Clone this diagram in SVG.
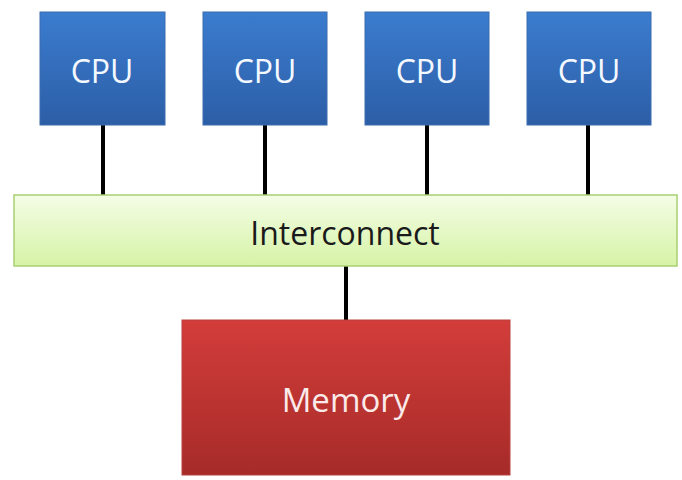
<svg xmlns="http://www.w3.org/2000/svg" width="682" height="480" viewBox="0 0 682 480">
  <defs>
    <linearGradient id="cpuFill" x1="0" y1="0" x2="0" y2="1">
      <stop offset="0" stop-color="#3b7ccf"/>
      <stop offset="1" stop-color="#2c5ea6"/>
    </linearGradient>
    <linearGradient id="busFill" x1="0" y1="0" x2="0" y2="1">
      <stop offset="0" stop-color="#f4fde6"/>
      <stop offset="1" stop-color="#d6f3a6"/>
    </linearGradient>
    <linearGradient id="memFill" x1="0" y1="0" x2="0" y2="1">
      <stop offset="0" stop-color="#d33d3a"/>
      <stop offset="1" stop-color="#a62b29"/>
    </linearGradient>
  </defs>
  <style>
    .cpu rect { fill: url(#cpuFill); stroke: #3a6db0; stroke-width: 1; }
    .bus rect { fill: url(#busFill); stroke: #a8cf72; stroke-width: 1.5; }
    .mem rect { fill: url(#memFill); stroke: #b8403d; stroke-width: 1; }
    text { font-family: "Open Sans", "Liberation Sans", sans-serif; text-anchor: middle; }
    .cpu text { fill: #f4f8ff; font-size: 32px; }
    .bus text { fill: #1a1a1a; font-size: 32px; }
    .mem text { fill: #fbeaea; font-size: 33px; }
    .wire { stroke: #000; stroke-width: 4; fill: none; }
  </style>

  <!-- links between the CPUs, the interconnect and memory -->
  <g id="connectors">
    <line class="wire" x1="103" y1="125" x2="103" y2="195"/>
    <line class="wire" x1="265" y1="125" x2="265" y2="195"/>
    <line class="wire" x1="427" y1="125" x2="427" y2="195"/>
    <line class="wire" x1="588" y1="125" x2="588" y2="195"/>
    <line class="wire" x1="346" y1="266" x2="346" y2="320"/>
  </g>

  <g id="cpu1" class="cpu">
    <rect x="40" y="12" width="125" height="113"/>
    <text x="102" y="83">CPU</text>
  </g>
  <g id="cpu2" class="cpu">
    <rect x="203" y="12" width="124" height="113"/>
    <text x="265" y="83">CPU</text>
  </g>
  <g id="cpu3" class="cpu">
    <rect x="365" y="12" width="124" height="113"/>
    <text x="427" y="83">CPU</text>
  </g>
  <g id="cpu4" class="cpu">
    <rect x="527" y="12" width="124" height="113"/>
    <text x="589" y="83">CPU</text>
  </g>

  <g id="interconnect" class="bus">
    <rect x="14" y="195" width="663" height="71"/>
    <text x="345" y="245">Interconnect</text>
  </g>

  <g id="memory" class="mem">
    <rect x="182" y="320" width="328" height="155"/>
    <text x="346" y="412">Memory</text>
  </g>
</svg>
